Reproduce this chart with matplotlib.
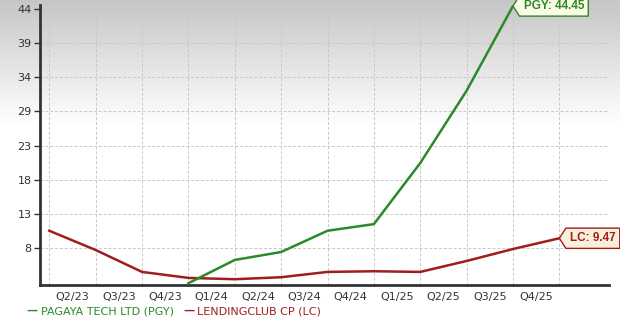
import numpy as np
import matplotlib.pyplot as plt
from matplotlib.colors import LinearSegmentedColormap
from matplotlib.path import Path

# quarter labels sit between the data points
quarters = ['Q2/23', 'Q3/23', 'Q4/23', 'Q1/24', 'Q2/24', 'Q3/24',
            'Q4/24', 'Q1/25', 'Q2/25', 'Q3/25', 'Q4/25']

# LendingClub: 12 points, PGY starts at point 3 and ends at point 10
lc_vals = [10.6, 7.7, 4.4, 3.5, 3.3, 3.6, 4.4, 4.5, 4.4, 6.05, 7.85, 9.47]
pgy_idx = [3, 4, 5, 6, 7, 8, 9, 10]
pgy_vals = [2.7, 6.2, 7.4, 10.6, 11.6, 20.8, 31.7, 44.45]

ytick_labels = ['8', '13', '18', '23', '29', '34', '39', '44']

green = '#2a8a2a'
red = '#a11d1d'


def tag(x0, y0, width, height, mutation_size):
    # rectangle with a pointed tip sticking out on the left
    pad = 0.35 * mutation_size
    tip = 0.55 * mutation_size
    x0, y0 = x0 - pad, y0 - pad
    x1, y1 = x0 + width + 2 * pad, y0 + height + 2 * pad
    ym = (y0 + y1) / 2
    verts = [(x0 - tip, ym), (x0, y1), (x1, y1), (x1, y0), (x0, y0), (x0 - tip, ym)]
    codes = [Path.MOVETO] + [Path.LINETO] * 4 + [Path.CLOSEPOLY]
    return Path(verts, codes)


fig = plt.figure(figsize=(6.2, 3.27), dpi=100)

# grey-to-white backdrop
bg = fig.add_axes([0, 0, 1, 1], zorder=-10)
cmap = LinearSegmentedColormap.from_list('bg', ['#c6c6c6', '#ffffff'])
grad = np.clip(np.linspace(0, 1, 327) / 0.38, 0, 1).reshape(-1, 1)
bg.imshow(grad, aspect='auto', cmap=cmap, extent=[0, 1, 0, 1], origin='upper')
bg.axis('off')

ax = fig.add_axes([40 / 620, 1 - 285 / 327, 569 / 620, 280 / 327])
ax.patch.set_alpha(0)

lc_x = np.arange(len(lc_vals))
ax.plot(lc_x, lc_vals, color=red, lw=1.8, zorder=3)
ax.plot(pgy_idx, pgy_vals, color=green, lw=1.8, zorder=4)

ax.set_xlim(-0.2, 12.07)
ax.set_ylim(2.43, 44.6)

yt = np.linspace(8, 44, 8)
ax.set_yticks(yt)
ax.set_yticklabels(ytick_labels)
ax.set_xticks(lc_x, minor=False)
ax.set_xticklabels([])
ax.set_xticks(np.arange(len(quarters)) + 0.5, minor=True)
ax.set_xticklabels(quarters, minor=True)
ax.tick_params(axis='x', which='both', length=0, labelsize=8, colors='#333333', pad=5)
ax.tick_params(axis='y', length=4, width=1, labelsize=8, colors='#333333', pad=2)

ax.grid(True, which='major', color='#c8c8c8', linestyle=(0, (3, 2)), lw=0.7)
for s in ['top', 'right']:
    ax.spines[s].set_visible(False)
ax.spines['left'].set_linewidth(2)
ax.spines['bottom'].set_linewidth(2)
ax.spines['left'].set_color('#333333')
ax.spines['bottom'].set_color('#333333')

# end-of-line tags
fs = 8.5
off = 0.9 * fs
tag_font = dict(fontsize=fs, fontweight='bold', family='Liberation Sans')
ax.annotate('PGY: 44.45', xy=(pgy_idx[-1], pgy_vals[-1]), xytext=(off, 0),
            textcoords='offset points', va='center', ha='left',
            color=green, clip_on=False, zorder=6, **tag_font,
            bbox=dict(boxstyle=tag, fc='#fbfbe6', ec=green, lw=1))
ax.annotate('LC: 9.47', xy=(lc_x[-1], lc_vals[-1]), xytext=(off, 0),
            textcoords='offset points', va='center', ha='left',
            color=red, clip_on=False, zorder=6, **tag_font,
            bbox=dict(boxstyle=tag, fc='#f8f0da', ec=red, lw=1))

# legend below the axis
ly = 1 - 311 / 327
fig.text(26 / 620, ly, '\u2014', color=green, fontsize=8, va='center', fontweight='bold')
fig.text(41 / 620, ly, 'PAGAYA TECH LTD (PGY)', color=green, fontsize=8, va='center')
fig.text(183 / 620, ly, '\u2014', color=red, fontsize=8, va='center', fontweight='bold')
fig.text(197 / 620, ly, 'LENDINGCLUB CP (LC)', color=red, fontsize=8, va='center')

fig.savefig('out.png', dpi=100)
